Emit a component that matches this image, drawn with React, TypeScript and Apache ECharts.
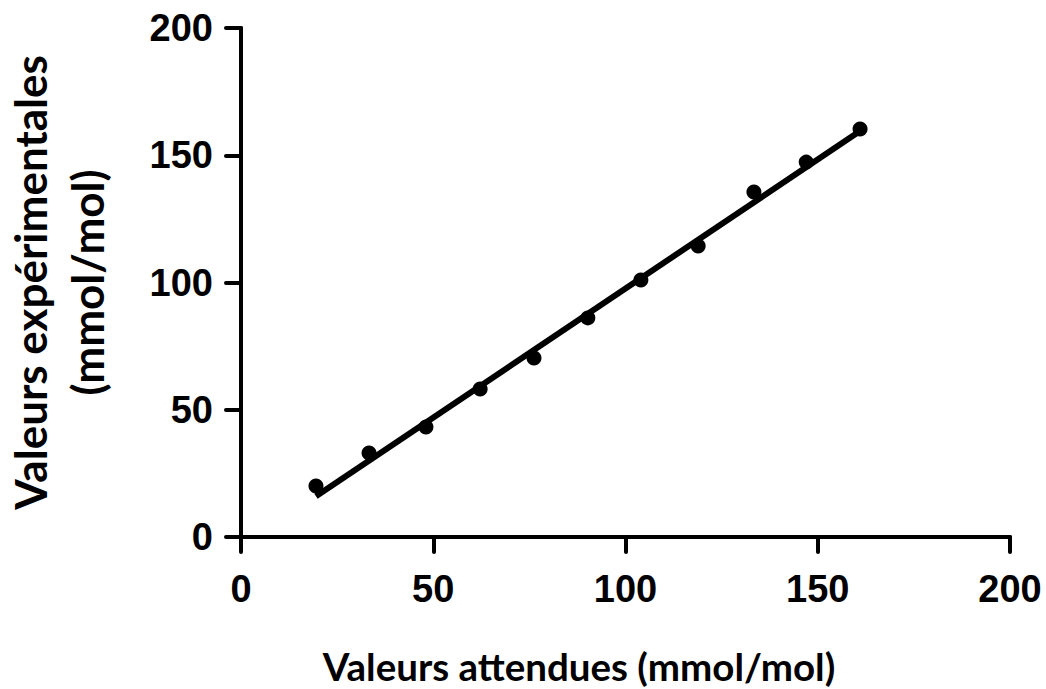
import React, { useEffect, useRef } from "react";
import * as echarts from "echarts";

const expectedValues = [19.5, 33.3, 48.1, 62.2, 76.2, 90.2, 104, 118.9, 133.4, 147, 161];
const measuredValues = [20, 33, 43.2, 58.2, 70.3, 86.1, 101, 114.3, 135.6, 147.3, 160.3];
const fitX = [19.5, 161];
const fitY = [16, 159.5];
const tickValues = [0, 50, 100, 150, 200];

const xTitle = "Valeurs attendues (mmol/mol)";
const yTitle = "Valeurs expérimentales\n(mmol/mol)";

const labelFont = "'Liberation Sans', Arial, sans-serif";
const titleFont = "Lato, 'Open Sans', sans-serif";

export default function App() {
  const ref = useRef<HTMLDivElement>(null);
  useEffect(() => {
    document.body.style.margin = "0";
    const chart = echarts.init(ref.current!, undefined, { renderer: "svg" });
    const axisCommon = {
      type: "value" as const,
      min: tickValues[0],
      max: tickValues[tickValues.length - 1],
      interval: 50,
      splitLine: { show: false },
      axisLine: { show: true, lineStyle: { color: "#000", width: 4, cap: "round" } },
      axisTick: { show: true, length: 15, lineStyle: { color: "#000", width: 4, cap: "round" } },
      axisLabel: {
        color: "#000",
        fontSize: 38,
        fontWeight: "bold",
        fontFamily: labelFont,
      },
    };
    chart.setOption({
      animation: false,
      backgroundColor: "#fff",
      grid: {
        left: 241,
        right: 36,
        top: 28,
        bottom: 152,
        containLabel: false,
        outerBoundsMode: "none",
      },
      xAxis: {
        ...axisCommon,
        axisLabel: { ...axisCommon.axisLabel, margin: 33 },
      },
      yAxis: {
        ...axisCommon,
        axisLabel: { ...axisCommon.axisLabel, margin: 28 },
        name: yTitle,
        nameLocation: "middle",
        nameRotate: 90,
        nameGap: 126,
        nameTextStyle: {
          color: "#000",
          fontSize: 44,
          fontWeight: "bold",
          fontFamily: titleFont,
          lineHeight: 57,
          align: "center",
        },
      },
      graphic: [
        {
          type: "text",
          x: 579,
          y: 666,
          style: {
            text: xTitle,
            textAlign: "center",
            textVerticalAlign: "middle",
            fill: "#000",
            font: `bold 38.5px ${titleFont}`,
          },
        },
      ],
      series: [
        {
          type: "scatter",
          data: expectedValues.map((x, i) => [x, measuredValues[i]]),
          symbol: "circle",
          symbolSize: 15,
          itemStyle: { color: "#000", opacity: 1 },
          z: 2,
        },
        {
          type: "line",
          data: fitX.map((x, i) => [x, fitY[i]]),
          showSymbol: false,
          lineStyle: { color: "#000", width: 6 },
          z: 3,
        },
      ],
    });
    return () => chart.dispose();
  }, []);
  return <div ref={ref} style={{ position: "absolute", left: 0, top: 0, width: 1046, height: 689 }} />;
}
